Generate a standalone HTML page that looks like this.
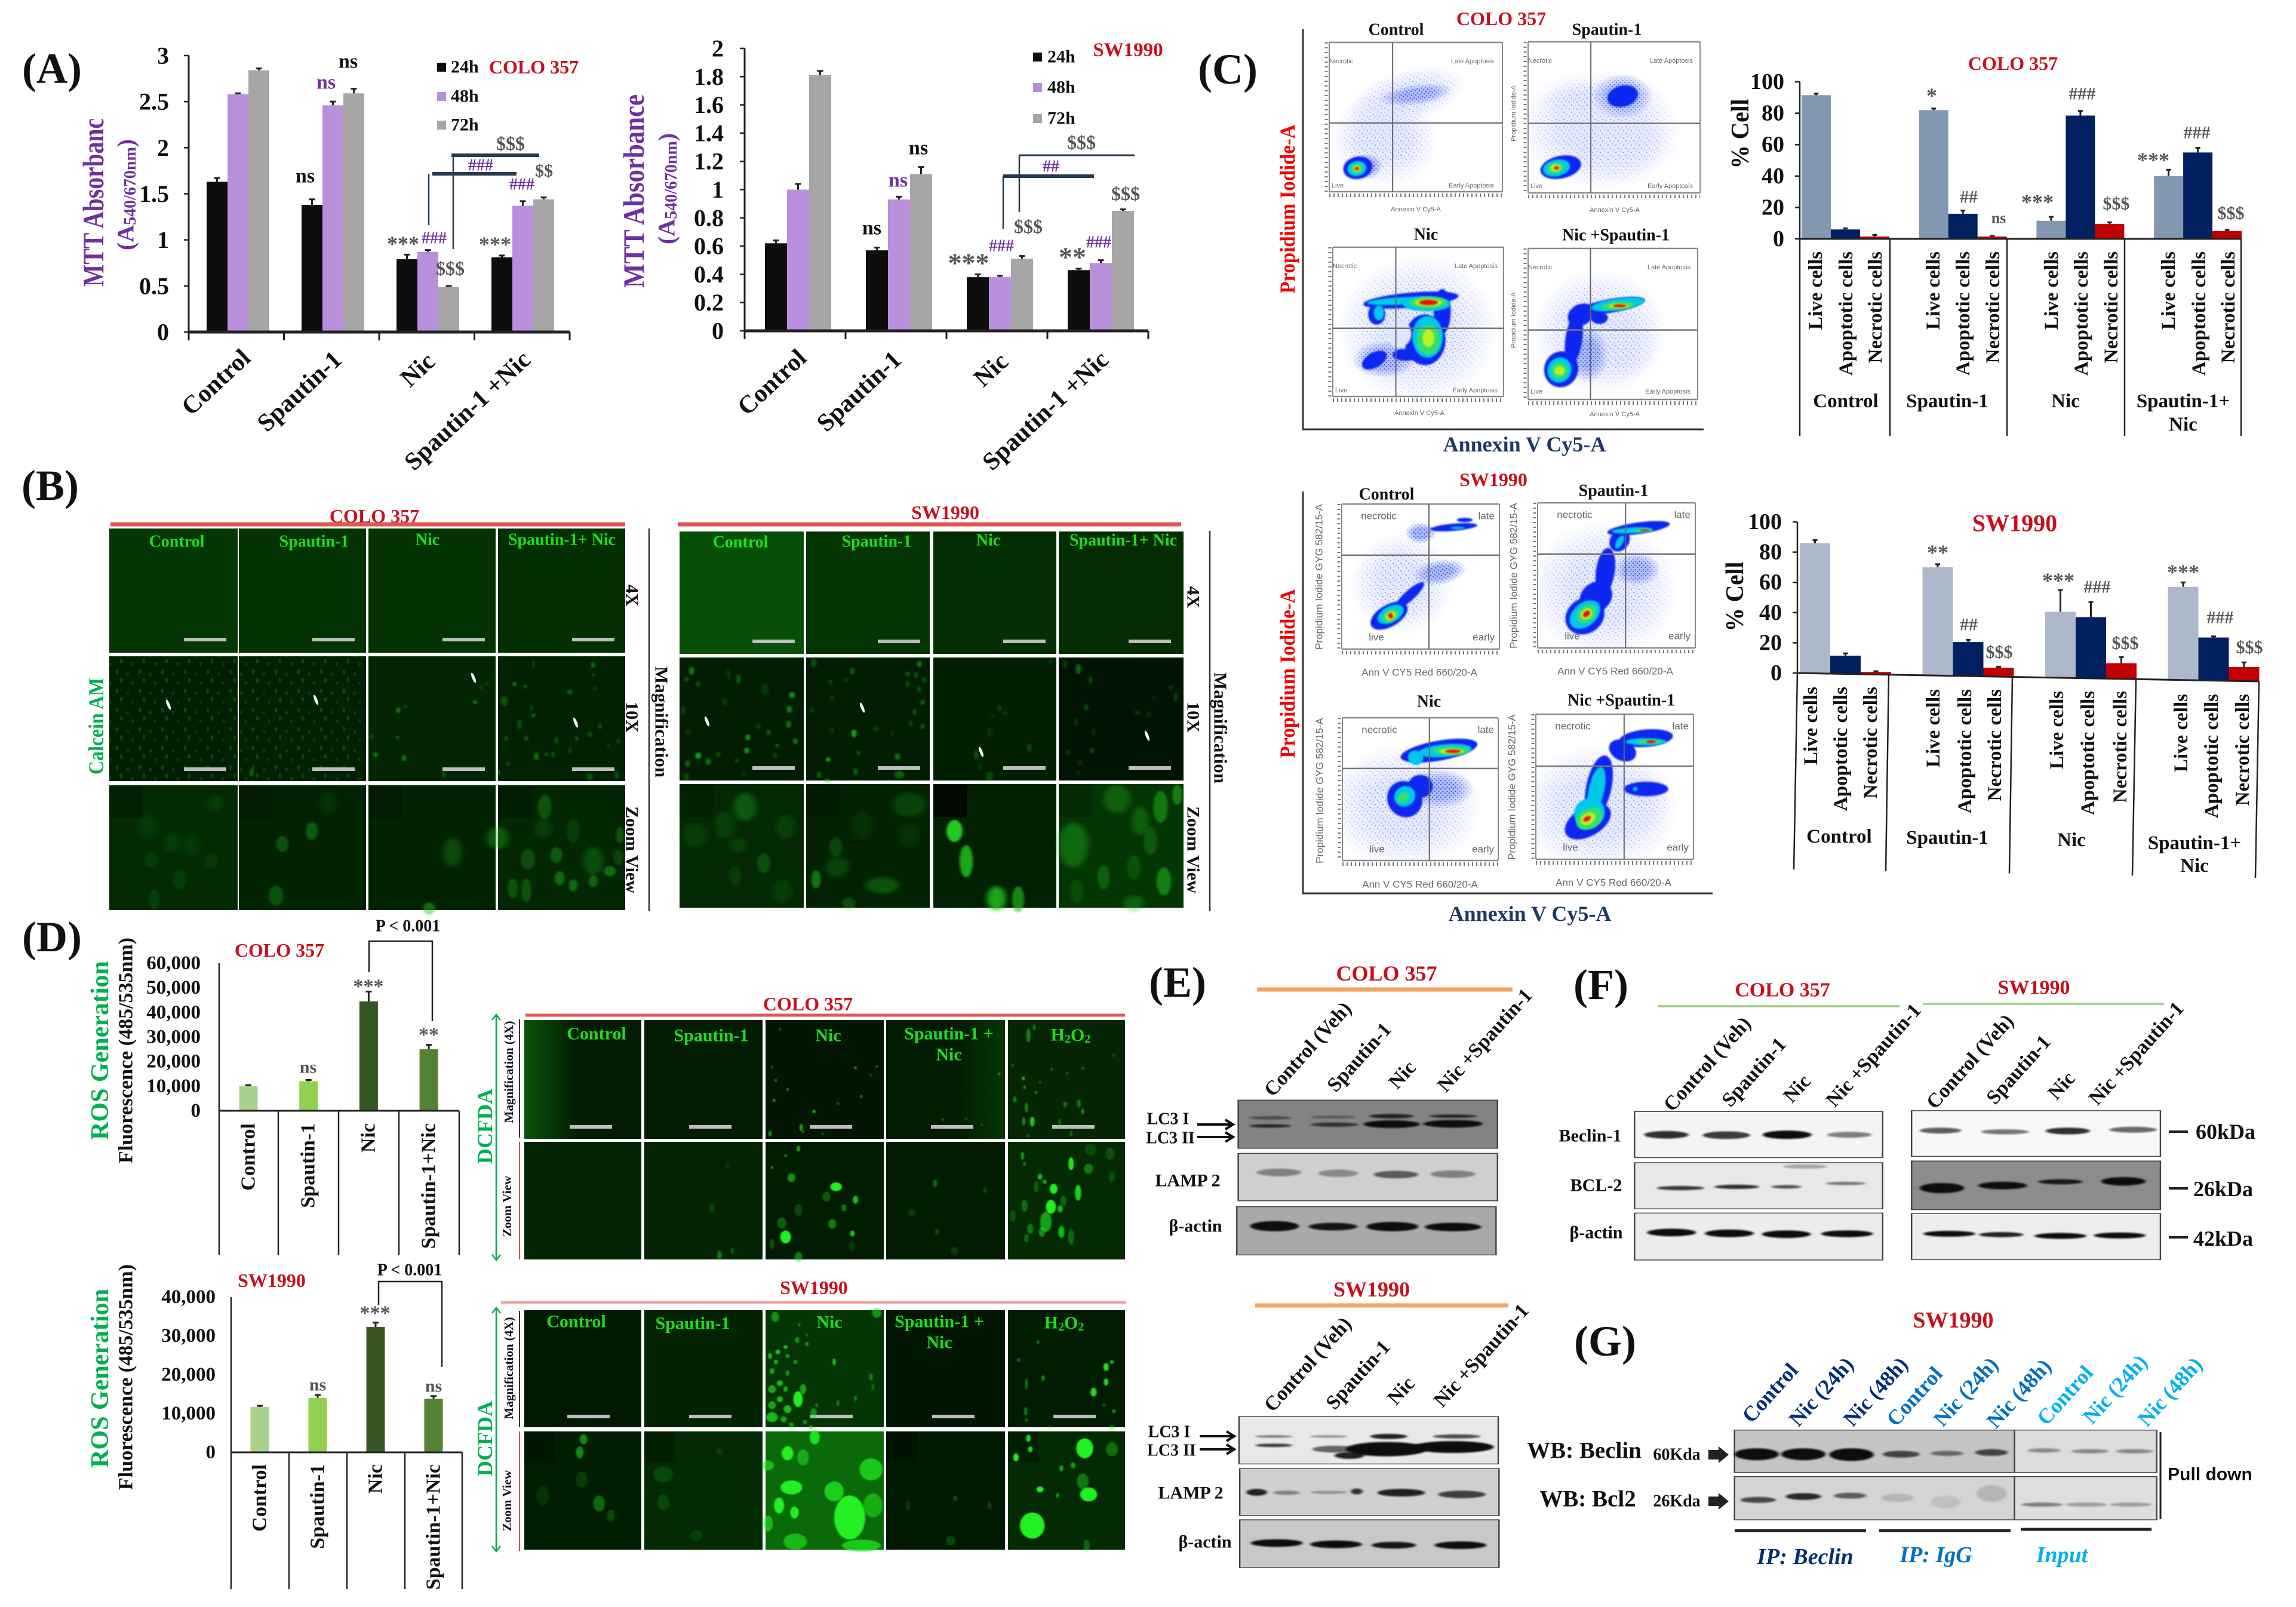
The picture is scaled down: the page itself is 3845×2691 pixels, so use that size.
<!DOCTYPE html>
<html lang="en">
<head>
<meta charset="utf-8">
<title>Multi-panel figure</title>
<style>
html,body{margin:0;padding:0;background:#fff;width:3845px;height:2691px;overflow:hidden}
svg{display:block}
text{font-family:"Liberation Serif","Times New Roman",serif;font-weight:700;text-anchor:middle;dominant-baseline:central;fill:#111}
.e{text-anchor:end}.s{text-anchor:start}
.red{fill:#c8101c}.pur{fill:#7030a0}.grn{fill:#00b050}.lime{fill:#19e019}.gry{fill:#555}
.sm{font-family:"Liberation Sans",sans-serif;font-weight:400;font-size:11px;fill:#666}
.sm2{font-family:"Liberation Sans",sans-serif;font-weight:400;font-size:17px;fill:#666}
</style>
</head>
<body>
<svg xmlns="http://www.w3.org/2000/svg" width="3845" height="2691" viewBox="0 0 3845 2691">
<defs>
<filter id="blur1" x="-30%" y="-30%" width="160%" height="160%"><feGaussianBlur stdDeviation="1.2"/></filter>
<filter id="blur2" x="-50%" y="-50%" width="200%" height="200%"><feGaussianBlur stdDeviation="2"/></filter>
<filter id="blur4" x="-50%" y="-50%" width="200%" height="200%"><feGaussianBlur stdDeviation="4"/></filter>
<filter id="blur9" x="-60%" y="-60%" width="220%" height="220%"><feGaussianBlur stdDeviation="9"/></filter>
<pattern id="dots-fine" width="38" height="32" patternUnits="userSpaceOnUse">
<ellipse cx="6" cy="5" rx="2.5" ry="4" fill="#0a450a"/><ellipse cx="24" cy="9" rx="2.5" ry="3" fill="#083c08"/><ellipse cx="13" cy="19" rx="2.5" ry="4" fill="#0a450a"/><ellipse cx="32" cy="24" rx="2.5" ry="3" fill="#083c08"/>
</pattern>
<pattern id="speck-sparse" width="13" height="12" patternUnits="userSpaceOnUse">
<circle cx="2" cy="3" r="1" fill="#6f86f5"/><circle cx="9" cy="1" r=".9" fill="#8fa2f7"/><circle cx="6" cy="8" r="1" fill="#6f86f5"/><circle cx="12" cy="10" r=".9" fill="#8fa2f7"/>
</pattern>
<pattern id="speck-dense" width="7" height="7" patternUnits="userSpaceOnUse">
<circle cx="1.5" cy="2" r="1.1" fill="#2f4ff0"/><circle cx="5" cy="5" r="1.1" fill="#2f4ff0"/>
</pattern>
<radialGradient id="soft-grad"><stop offset=".45" stop-color="#fff"/><stop offset="1" stop-color="#000"/></radialGradient>
<mask id="soft-mask" maskContentUnits="objectBoundingBox" x="0" y="0" width="1" height="1"><rect width="1" height="1" fill="url(#soft-grad)"/></mask>
<linearGradient id="fade-right" x1="0" x2="1" y1="0" y2="0"><stop offset="0" stop-color="#0c6c0c" stop-opacity=".7"/><stop offset="1" stop-color="#0c6c0c" stop-opacity="0"/></linearGradient>
<linearGradient id="fade-left" x1="1" x2="0" y1="0" y2="0"><stop offset="0" stop-color="#0c6c0c" stop-opacity=".35"/><stop offset="1" stop-color="#0c6c0c" stop-opacity="0"/></linearGradient>
</defs>

<!-- panel letters -->
<text x="87" y="115" font-size="72">(A)</text>
<text x="84" y="813" font-size="72">(B)</text>
<text x="2056" y="116" font-size="72">(C)</text>
<text x="87" y="1569" font-size="72">(D)</text>
<text x="1972" y="1645" font-size="72">(E)</text>
<text x="2681" y="1649" font-size="72">(F)</text>
<text x="2688" y="2246" font-size="72">(G)</text>

<!-- PANEL A -->
<g id="chart-a1"></g>
<g id="chart-a2"></g>
<text transform="rotate(-90 156 339)" x="156" y="339" font-size="50" textLength="282" lengthAdjust="spacingAndGlyphs" class="pur">MTT Absorbanc</text>
<text transform="rotate(-90 210 326)" x="210" y="326" font-size="40" class="pur">(A<tspan font-size="28" dy="8">540/670nm</tspan><tspan dy="-8">)</tspan></text>
<text transform="rotate(-90 1061 320)" x="1061" y="320" font-size="50" textLength="324" lengthAdjust="spacingAndGlyphs" class="pur">MTT Absorbance</text>
<text transform="rotate(-90 1116 316)" x="1116" y="316" font-size="40" class="pur">(A<tspan font-size="28" dy="8">540/670nm</tspan><tspan dy="-8">)</tspan></text>

<text class="e" transform="rotate(-43 413 593)" x="413" y="593" font-size="42">Control</text>
<text class="e" transform="rotate(-43 566 596)" x="566" y="596" font-size="42">Spautin-1</text>
<text class="e" transform="rotate(-43 722 599)" x="722" y="599" font-size="42">Nic</text>
<text class="e" transform="rotate(-43 882 596)" x="882" y="596" font-size="42">Spautin-1 +Nic</text>
<text class="e" transform="rotate(-43 1344 593)" x="1344" y="593" font-size="42">Control</text>
<text class="e" transform="rotate(-43 1503 596)" x="1503" y="596" font-size="42">Spautin-1</text>
<text class="e" transform="rotate(-43 1682 599)" x="1682" y="599" font-size="42">Nic</text>
<text class="e" transform="rotate(-43 1850 596)" x="1850" y="596" font-size="42">Spautin-1 +Nic</text>

<rect x="732" y="105" width="15" height="15" fill="#0d0d0d"/>
<rect x="732" y="154" width="15" height="15" fill="#b98fdc"/>
<rect x="732" y="202" width="15" height="15" fill="#a6a6a6"/>
<text class="s" x="755" y="112" font-size="30">24h</text>
<text class="s" x="755" y="161" font-size="30">48h</text>
<text class="s" x="755" y="209" font-size="30">72h</text>
<text x="894" y="112" font-size="32" class="red">COLO 357</text>
<rect x="1730" y="88" width="15" height="15" fill="#0d0d0d"/>
<rect x="1730" y="139" width="15" height="15" fill="#b98fdc"/>
<rect x="1730" y="191" width="15" height="15" fill="#a6a6a6"/>
<text class="s" x="1754" y="95" font-size="30">24h</text>
<text class="s" x="1754" y="146" font-size="30">48h</text>
<text class="s" x="1754" y="198" font-size="30">72h</text>
<text x="1889" y="84" font-size="33" class="red">SW1990</text>

<!-- A annotations -->
<g>
<text x="583" y="103" font-size="34">ns</text>
<text x="546" y="138" font-size="34" class="pur">ns</text>
<text x="511" y="295" font-size="34">ns</text>
<text x="855" y="240" font-size="32" class="gry">$$$</text>
<text x="805" y="277" font-size="28" class="pur">###</text>
<text x="911" y="286" font-size="30" class="gry">$$</text>
<text x="874" y="309" font-size="28" class="pur">###</text>
<text x="675" y="408" font-size="36" class="gry">***</text>
<text x="727" y="399" font-size="28" class="pur">###</text>
<text x="829" y="409" font-size="36" class="gry">***</text>
<text x="754" y="449" font-size="32" class="gry">$$$</text>
<path d="M756 260H903M724 291H865" stroke="#263a52" stroke-width="6" fill="none"/>
<path d="M718 291V377M759 260V417" stroke="#263a52" stroke-width="2.5" fill="none"/>
</g>
<g>
<text x="1538" y="248" font-size="34">ns</text>
<text x="1504" y="302" font-size="34" class="pur">ns</text>
<text x="1460" y="382" font-size="34">ns</text>
<text x="1811" y="238" font-size="32" class="gry">$$$</text>
<text x="1760" y="279" font-size="28" class="pur">##</text>
<text x="1722" y="379" font-size="32" class="gry">$$$</text>
<text x="1677" y="412" font-size="28" class="pur">###</text>
<text x="1622" y="440" font-size="46" class="gry">***</text>
<text x="1885" y="324" font-size="32" class="gry">$$$</text>
<text x="1796" y="430" font-size="46" class="gry">**</text>
<text x="1840" y="406" font-size="28" class="pur">###</text>
<path d="M1707 260H1900" stroke="#263a52" stroke-width="3" fill="none"/>
<path d="M1680 295H1832" stroke="#263a52" stroke-width="6" fill="none"/>
<path d="M1680 295V383M1707 260V355" stroke="#263a52" stroke-width="2.5" fill="none"/>
</g>

<!-- PANEL B -->
<g id="micro-b"></g>
<text x="627" y="864" font-size="32" class="red">COLO 357</text>
<text x="1583" y="858" font-size="32" class="red">SW1990</text>
<path d="M185 878H1047M1135 878H1978" stroke="#e25555" stroke-width="7"/>
<path d="M1087 885V1526M2026 889V1526" stroke="#333" stroke-width="2.5"/>
<text x="296" y="907" font-size="28" class="lime">Control</text>
<text x="526" y="907" font-size="28" class="lime">Spautin-1</text>
<text x="716" y="904" font-size="28" class="lime">Nic</text>
<text x="941" y="904" font-size="28" class="lime">Spautin-1+ Nic</text>
<text x="1240" y="908" font-size="28" class="lime">Control</text>
<text x="1468" y="907" font-size="28" class="lime">Spautin-1</text>
<text x="1655" y="905" font-size="28" class="lime">Nic</text>
<text x="1881" y="905" font-size="28" class="lime">Spautin-1+ Nic</text>
<text transform="rotate(90 1058 997)" x="1058" y="997" font-size="30">4X</text>
<text transform="rotate(90 1058 1201)" x="1058" y="1201" font-size="30">10X</text>
<text transform="rotate(90 1058 1423)" x="1058" y="1423" font-size="30">Zoom View</text>
<text transform="rotate(90 1108 1209)" x="1108" y="1209" font-size="31">Magnification</text>
<text transform="rotate(90 1998 1000)" x="1998" y="1000" font-size="30">4X</text>
<text transform="rotate(90 1998 1201)" x="1998" y="1201" font-size="30">10X</text>
<text transform="rotate(90 1998 1423)" x="1998" y="1423" font-size="30">Zoom View</text>
<text transform="rotate(90 2044 1219)" x="2044" y="1219" font-size="31">Magnification</text>
<text transform="rotate(-90 161 1216)" x="161" y="1216" font-size="36" class="grn" textLength="162" lengthAdjust="spacingAndGlyphs">Calcein AM</text>

<!-- PANEL C flow plots -->
<g id="flow"></g>
<text x="2514" y="31" font-size="32" class="red">COLO 357</text>
<text x="2338" y="50" font-size="28">Control</text>
<text x="2691" y="50" font-size="28">Spautin-1</text>
<text x="2388" y="393" font-size="28">Nic</text>
<text x="2706" y="394" font-size="28">Nic +Spautin-1</text>
<text transform="rotate(-90 2156 350)" x="2156" y="350" font-size="36" textLength="283" lengthAdjust="spacingAndGlyphs" style="fill:#f00000">Propidium  Iodide-A</text>
<text x="2553" y="744" font-size="36" style="fill:#1f3864">Annexin V Cy5-A</text>
<path d="M2182 49V719H2853" fill="none" stroke="#333" stroke-width="3"/>
<text x="2501" y="803" font-size="32" class="red">SW1990</text>
<text x="2322" y="828" font-size="28">Control</text>
<text x="2702" y="822" font-size="28">Spautin-1</text>
<text x="2393" y="1175" font-size="28">Nic</text>
<text x="2715" y="1173" font-size="28">Nic +Spautin-1</text>
<text transform="rotate(-90 2156 1128)" x="2156" y="1128" font-size="36" textLength="283" lengthAdjust="spacingAndGlyphs" style="fill:#f00000">Propidium  Iodide-A</text>
<text x="2562" y="1530" font-size="36" style="fill:#1f3864">Annexin V Cy5-A</text>
<path d="M2182 823V1496H2868" fill="none" stroke="#333" stroke-width="3"/>

<g>
<g transform="translate(2226,71)"><text class="sm" x="20" y="32">Necrotic</text><text class="sm e" x="276" y="32">Late Apoptosis</text><text class="sm" x="14" y="240">Live</text><text class="sm e" x="276" y="240">Early Apoptosis</text><text class="sm" x="145" y="280">Annexin V Cy5-A</text></g>
<g transform="translate(2559,70)"><text class="sm" x="20" y="32">Necrotic</text><text class="sm e" x="276" y="32">Late Apoptosis</text><text class="sm" x="14" y="242">Live</text><text class="sm e" x="276" y="242">Early Apoptosis</text><text class="sm" x="145" y="282">Annexin V Cy5-A</text><text class="sm" transform="rotate(-90 -24 120)" x="-24" y="120">Propidium Iodide-A</text></g>
<g transform="translate(2232,414)"><text class="sm" x="20" y="32">Necrotic</text><text class="sm e" x="276" y="32">Late Apoptosis</text><text class="sm" x="14" y="240">Live</text><text class="sm e" x="276" y="240">Early Apoptosis</text><text class="sm" x="145" y="278">Annexin V Cy5-A</text></g>
<g transform="translate(2559,416)"><text class="sm" x="20" y="32">Necrotic</text><text class="sm e" x="272" y="32">Late Apoptosis</text><text class="sm" x="14" y="240">Live</text><text class="sm e" x="272" y="240">Early Apoptosis</text><text class="sm" x="145" y="278">Annexin V Cy5-A</text><text class="sm" transform="rotate(-90 -24 120)" x="-24" y="120">Propidium Iodide-A</text></g>
<g transform="translate(2247,844)"><text class="sm2" x="62" y="20">necrotic</text><text class="sm2 e" x="256" y="20">late</text><text class="sm2" x="58" y="223">live</text><text class="sm2 e" x="256" y="223">early</text><text class="sm2" x="130" y="282">Ann V CY5 Red 660/20-A</text><text class="sm2" transform="rotate(-90 -38 122)" x="-38" y="122">Propidium Iodide GYG 582/15-A</text></g>
<g transform="translate(2575,842)"><text class="sm2" x="62" y="20">necrotic</text><text class="sm2 e" x="256" y="20">late</text><text class="sm2" x="58" y="223">live</text><text class="sm2 e" x="256" y="223">early</text><text class="sm2" x="130" y="282">Ann V CY5 Red 660/20-A</text><text class="sm2" transform="rotate(-90 -40 122)" x="-40" y="122">Propidium Iodide GYG 582/15-A</text></g>
<g transform="translate(2248,1202)"><text class="sm2" x="62" y="20">necrotic</text><text class="sm2 e" x="254" y="20">late</text><text class="sm2" x="58" y="220">live</text><text class="sm2 e" x="254" y="220">early</text><text class="sm2" x="130" y="279">Ann V CY5 Red 660/20-A</text><text class="sm2" transform="rotate(-90 -38 122)" x="-38" y="122">Propidium Iodide GYG 582/15-A</text></g>
<g transform="translate(2572,1196)"><text class="sm2" x="62" y="20">necrotic</text><text class="sm2 e" x="256" y="20">late</text><text class="sm2" x="58" y="223">live</text><text class="sm2 e" x="256" y="223">early</text><text class="sm2" x="130" y="282">Ann V CY5 Red 660/20-A</text><text class="sm2" transform="rotate(-90 -40 122)" x="-40" y="122">Propidium Iodide GYG 582/15-A</text></g>
</g>

<!-- PANEL C bars -->
<g id="chart-c1"></g>
<g id="chart-c2"></g>
<text x="3371" y="106" font-size="32" class="red">COLO 357</text>
<text transform="rotate(-90 2915 224)" x="2915" y="224" font-size="42" textLength="117" lengthAdjust="spacingAndGlyphs">% Cell</text>
<text x="3374" y="876" font-size="40" class="red">SW1990</text>
<text transform="rotate(-90 2906 999)" x="2906" y="999" font-size="42" textLength="117" lengthAdjust="spacingAndGlyphs">% Cell</text>

<g>
<text class="e" transform="rotate(-90 3041 421)" x="3041" y="421" font-size="33">Live cells</text>
<text class="e" transform="rotate(-90 3092 421)" x="3092" y="421" font-size="33">Apoptotic cells</text>
<text class="e" transform="rotate(-90 3141 421)" x="3141" y="421" font-size="33">Necrotic cells</text>
<text class="e" transform="rotate(-90 3238 421)" x="3238" y="421" font-size="33">Live cells</text>
<text class="e" transform="rotate(-90 3288 421)" x="3288" y="421" font-size="33">Apoptotic cells</text>
<text class="e" transform="rotate(-90 3338 421)" x="3338" y="421" font-size="33">Necrotic cells</text>
<text class="e" transform="rotate(-90 3436 421)" x="3436" y="421" font-size="33">Live cells</text>
<text class="e" transform="rotate(-90 3486 421)" x="3486" y="421" font-size="33">Apoptotic cells</text>
<text class="e" transform="rotate(-90 3536 421)" x="3536" y="421" font-size="33">Necrotic cells</text>
<text class="e" transform="rotate(-90 3632 421)" x="3632" y="421" font-size="33">Live cells</text>
<text class="e" transform="rotate(-90 3683 421)" x="3683" y="421" font-size="33">Apoptotic cells</text>
<text class="e" transform="rotate(-90 3732 421)" x="3732" y="421" font-size="33">Necrotic cells</text>
<text x="3091" y="672" font-size="33">Control</text>
<text x="3261" y="672" font-size="33">Spautin-1</text>
<text x="3459" y="672" font-size="33">Nic</text>
<text x="3656" y="672" font-size="33">Spautin-1+</text>
<text x="3656" y="711" font-size="33">Nic</text>
</g>
<g>
<text class="e" transform="rotate(-90 3033 1150)" x="3033" y="1150" font-size="33">Live cells</text>
<text class="e" transform="rotate(-90 3083 1150)" x="3083" y="1150" font-size="33">Apoptotic cells</text>
<text class="e" transform="rotate(-90 3133 1150)" x="3133" y="1150" font-size="33">Necrotic cells</text>
<text class="e" transform="rotate(-90 3238 1154)" x="3238" y="1154" font-size="33">Live cells</text>
<text class="e" transform="rotate(-90 3291 1154)" x="3291" y="1154" font-size="33">Apoptotic cells</text>
<text class="e" transform="rotate(-90 3341 1154)" x="3341" y="1154" font-size="33">Necrotic cells</text>
<text class="e" transform="rotate(-90 3445 1157)" x="3445" y="1157" font-size="33">Live cells</text>
<text class="e" transform="rotate(-90 3497 1157)" x="3497" y="1157" font-size="33">Apoptotic cells</text>
<text class="e" transform="rotate(-90 3551 1157)" x="3551" y="1157" font-size="33">Necrotic cells</text>
<text class="e" transform="rotate(-90 3653 1162)" x="3653" y="1162" font-size="33">Live cells</text>
<text class="e" transform="rotate(-90 3704 1162)" x="3704" y="1162" font-size="33">Apoptotic cells</text>
<text class="e" transform="rotate(-90 3756 1162)" x="3756" y="1162" font-size="33">Necrotic cells</text>
<text x="3080" y="1401" font-size="33">Control</text>
<text x="3261" y="1403" font-size="33">Spautin-1</text>
<text x="3469" y="1407" font-size="33">Nic</text>
<text x="3675" y="1412" font-size="33">Spautin-1+</text>
<text x="3675" y="1450" font-size="33">Nic</text>
</g>
<g>
<text x="3235" y="160" font-size="36" class="gry">*</text>
<text x="3487" y="157" font-size="30" class="gry">###</text>
<text x="3297" y="330" font-size="30" class="gry">##</text>
<text x="3347" y="365" font-size="26" class="gry">ns</text>
<text x="3412" y="338" font-size="36" class="gry">***</text>
<text x="3544" y="341" font-size="30" class="gry">$$$</text>
<text x="3606" y="268" font-size="36" class="gry">***</text>
<text x="3679" y="222" font-size="30" class="gry">###</text>
<text x="3736" y="357" font-size="30" class="gry">$$$</text>
</g>
<g>
<text x="3245" y="925" font-size="36" class="gry">**</text>
<text x="3447" y="972" font-size="36" class="gry">***</text>
<text x="3512" y="983" font-size="30" class="gry">###</text>
<text x="3656" y="958" font-size="36" class="gry">***</text>
<text x="3297" y="1046" font-size="30" class="gry">##</text>
<text x="3718" y="1034" font-size="30" class="gry">###</text>
<text x="3348" y="1092" font-size="30" class="gry">$$$</text>
<text x="3559" y="1077" font-size="30" class="gry">$$$</text>
<text x="3767" y="1084" font-size="30" class="gry">$$$</text>
</g>

<!-- PANEL D charts -->
<g id="chart-d1"></g>
<g id="chart-d2"></g>
<text transform="rotate(-90 168 1759)" x="168" y="1759" font-size="42" class="grn">ROS Generation</text>
<text transform="rotate(-90 211 1759)" x="211" y="1759" font-size="34">Fluorescence  (485/535nm)</text>
<text transform="rotate(-90 168 2308)" x="168" y="2308" font-size="42" class="grn">ROS Generation</text>
<text transform="rotate(-90 211 2306)" x="211" y="2306" font-size="34">Fluorescence (485/535nm)</text>
<text x="468" y="1591" font-size="32" class="red">COLO 357</text>
<text x="455" y="2144" font-size="32" class="red">SW1990</text>
<text x="683" y="1551" font-size="28">P &lt; 0.001</text>
<path d="M618 1628V1576H724V1710" fill="none" stroke="#222" stroke-width="2.5"/>
<text x="686" y="2127" font-size="28">P &lt; 0.001</text>
<path d="M634 2185V2146H740V2289" fill="none" stroke="#222" stroke-width="2.5"/>
<text x="617" y="1652" font-size="34" class="gry">***</text>
<text x="718" y="1733" font-size="34" class="gry">**</text>
<text x="516" y="1787" font-size="30" class="gry">ns</text>
<text x="628" y="2199" font-size="34" class="gry">***</text>
<text x="532" y="2319" font-size="30" class="gry">ns</text>
<text x="726" y="2321" font-size="30" class="gry">ns</text>
<text class="e" transform="rotate(-90 416 1881)" x="416" y="1881" font-size="34">Control</text>
<text class="e" transform="rotate(-90 516 1881)" x="516" y="1881" font-size="34">Spautin-1</text>
<text class="e" transform="rotate(-90 617 1881)" x="617" y="1881" font-size="34">Nic</text>
<text class="e" transform="rotate(-90 718 1881)" x="718" y="1881" font-size="34">Spautin-1+Nic</text>
<text class="e" transform="rotate(-90 435 2452)" x="435" y="2452" font-size="34">Control</text>
<text class="e" transform="rotate(-90 532 2452)" x="532" y="2452" font-size="34">Spautin-1</text>
<text class="e" transform="rotate(-90 629 2452)" x="629" y="2452" font-size="34">Nic</text>
<text class="e" transform="rotate(-90 726 2452)" x="726" y="2452" font-size="34">Spautin-1+Nic</text>

<!-- PANEL D micrographs -->
<g id="micro-d"></g>
<text x="1353" y="1681" font-size="32" class="red">COLO 357</text>
<path d="M880 1700H1884" stroke="#e25555" stroke-width="5"/>
<text x="1363" y="2156" font-size="32" class="red">SW1990</text>
<path d="M839 2181H1886" stroke="#f0a0a0" stroke-width="4"/>
<text x="999" y="1731" font-size="30" class="lime">Control</text>
<text x="1191" y="1734" font-size="30" class="lime">Spautin-1</text>
<text x="1387" y="1734" font-size="30" class="lime">Nic</text>
<text x="1589" y="1731" font-size="30" class="lime">Spautin-1 +</text>
<text x="1589" y="1766" font-size="30" class="lime">Nic</text>
<text x="1793" y="1733" font-size="30" class="lime">H<tspan font-size="20" dy="7">2</tspan><tspan dy="-7">O</tspan><tspan font-size="20" dy="7">2</tspan></text>
<text x="965" y="2213" font-size="30" class="lime">Control</text>
<text x="1160" y="2216" font-size="30" class="lime">Spautin-1</text>
<text x="1389" y="2214" font-size="30" class="lime">Nic</text>
<text x="1573" y="2213" font-size="30" class="lime">Spautin-1 +</text>
<text x="1573" y="2248" font-size="30" class="lime">Nic</text>
<text x="1782" y="2215" font-size="30" class="lime">H<tspan font-size="20" dy="7">2</tspan><tspan dy="-7">O</tspan><tspan font-size="20" dy="7">2</tspan></text>
<text transform="rotate(-90 812 1886)" x="812" y="1886" font-size="36" class="grn">DCFDA</text>
<text transform="rotate(-90 812 2409)" x="812" y="2409" font-size="36" class="grn">DCFDA</text>
<path d="M831 1699V2110M824 1708L831 1699L838 1708M824 2101L831 2110L838 2101M831 2190V2598M824 2199L831 2190L838 2199M824 2589L831 2598L838 2589" fill="none" stroke="#00b050" stroke-width="2.5"/>
<path d="M870 1707V1905M870 2195V2390" stroke="#333" stroke-width="2"/>
<path d="M870 1912V2109M870 2397V2597" stroke="#d05050" stroke-width="2"/>
<text transform="rotate(-90 852 1795)" x="852" y="1795" font-size="21">Magnification  (4X)</text>
<text transform="rotate(-90 849 2020)" x="849" y="2020" font-size="21">Zoom View</text>
<text transform="rotate(-90 852 2291)" x="852" y="2291" font-size="21">Magnification  (4X)</text>
<text transform="rotate(-90 849 2513)" x="849" y="2513" font-size="21">Zoom View</text>

<!-- BLOTS E F G -->
<g id="blots"></g>
<text x="2322" y="1630" font-size="36" class="red">COLO 357</text>
<path d="M2105 1657H2533" stroke="#f4a460" stroke-width="7"/>
<text x="2297" y="2159" font-size="36" class="red">SW1990</text>
<path d="M2102 2186H2526" stroke="#f4a460" stroke-width="7"/>
<text x="2985" y="1658" font-size="34" class="red">COLO 357</text>
<path d="M2777 1685H3181" stroke="#a9d18e" stroke-width="4"/>
<text x="3406" y="1654" font-size="34" class="red">SW1990</text>
<path d="M3220 1681H3624" stroke="#a9d18e" stroke-width="4"/>

<g>
<text class="e" transform="rotate(-48 2257 1683)" x="2257" y="1683" font-size="34">Control (Veh)</text>
<text class="e" transform="rotate(-48 2324 1718)" x="2324" y="1718" font-size="34">Spautin-1</text>
<text class="e" transform="rotate(-48 2365 1782)" x="2365" y="1782" font-size="34">Nic</text>
<text class="e" transform="rotate(-48 2560 1661)" x="2560" y="1661" font-size="34">Nic +Spautin-1</text>
<text class="e" transform="rotate(-48 2257 2211)" x="2257" y="2211" font-size="34">Control (Veh)</text>
<text class="e" transform="rotate(-48 2322 2250)" x="2322" y="2250" font-size="34">Spautin-1</text>
<text class="e" transform="rotate(-48 2363 2311)" x="2363" y="2311" font-size="34">Nic</text>
<text class="e" transform="rotate(-48 2554 2189)" x="2554" y="2189" font-size="34">Nic +Spautin-1</text>
<text class="e" transform="rotate(-48 2926 1708)" x="2926" y="1708" font-size="34">Control (Veh)</text>
<text class="e" transform="rotate(-48 2985 1743)" x="2985" y="1743" font-size="34">Spautin-1</text>
<text class="e" transform="rotate(-48 3026 1805)" x="3026" y="1805" font-size="34">Nic</text>
<text class="e" transform="rotate(-48 3211 1686)" x="3211" y="1686" font-size="34">Nic +Spautin-1</text>
<text class="e" transform="rotate(-48 3366 1704)" x="3366" y="1704" font-size="34">Control (Veh)</text>
<text class="e" transform="rotate(-48 3428 1739)" x="3428" y="1739" font-size="34">Spautin-1</text>
<text class="e" transform="rotate(-48 3469 1800)" x="3469" y="1800" font-size="34">Nic</text>
<text class="e" transform="rotate(-48 3651 1683)" x="3651" y="1683" font-size="34">Nic +Spautin-1</text>
</g>

<g>
<text x="1956" y="1874" font-size="28">LC3 I</text>
<text x="1960" y="1906" font-size="28">LC3 II</text>
<text x="1989" y="1977" font-size="30">LAMP 2</text>
<text x="2002" y="2053" font-size="30">β-actin</text>
<text x="1958" y="2398" font-size="28">LC3 I</text>
<text x="1962" y="2429" font-size="28">LC3 II</text>
<text x="1994" y="2500" font-size="30">LAMP 2</text>
<text x="2018" y="2582" font-size="30">β-actin</text>
<path d="M2005 1883H2063M2052 1875L2065 1883L2052 1891M2005 1904H2063M2052 1896L2065 1904L2052 1912M2009 2405H2065M2054 2397L2067 2405L2054 2413M2009 2427H2065M2054 2419L2067 2427L2054 2435" fill="none" stroke="#111" stroke-width="4"/>
<text x="2663" y="1902" font-size="30">Beclin-1</text>
<text x="2673" y="1985" font-size="30">BCL-2</text>
<text x="2673" y="2064" font-size="30">β-actin</text>
<path d="M3632 1895H3664M3632 1990H3664M3632 2072H3664" stroke="#222" stroke-width="4"/>
<text x="3727" y="1895" font-size="36">60kDa</text>
<text x="3723" y="1991" font-size="36">26kDa</text>
<text x="3723" y="2074" font-size="36">42kDa</text>

<text x="3271" y="2211" font-size="38" class="red">SW1990</text>
<text x="2653" y="2429" font-size="39">WB: Beclin</text>
<text x="2659" y="2510" font-size="39">WB: Bcl2</text>
<text x="2808" y="2436" font-size="28">60Kda</text>
<text x="2808" y="2514" font-size="28">26Kda</text>
<path d="M2861 2428H2878V2422L2895 2436L2878 2450V2444H2861ZM2861 2506H2878V2500L2895 2514L2878 2528V2522H2861Z" fill="#222"/>
<text x="3701" y="2469" style="font-family:'Liberation Sans',sans-serif;font-weight:700" font-size="30">Pull down</text>
<path d="M3618 2398V2544" stroke="#222" stroke-width="3"/>
<path d="M2905 2563H3125M3147 2563H3367M3384 2561H3603" stroke="#222" stroke-width="5"/>
<text x="3023" y="2607" font-size="38" font-style="italic" style="fill:#002f7a">IP: Beclin</text>
<text x="3242" y="2604" font-size="38" font-style="italic" style="fill:#0070c0">IP: IgG</text>
<text x="3453" y="2604" font-size="38" font-style="italic" style="fill:#00b0f0">Input</text>
<text class="e" transform="rotate(-48 3004 2288)" x="3004" y="2288" font-size="36" style="fill:#002f7a">Control</text>
<text class="e" transform="rotate(-48 3097 2278)" x="3097" y="2278" font-size="36" style="fill:#002f7a">Nic (24h)</text>
<text class="e" transform="rotate(-48 3188 2278)" x="3188" y="2278" font-size="36" style="fill:#002f7a">Nic (48h)</text>
<text class="e" transform="rotate(-48 3246 2294)" x="3246" y="2294" font-size="36" style="fill:#0070c0">Control</text>
<text class="e" transform="rotate(-48 3339 2278)" x="3339" y="2278" font-size="36" style="fill:#0070c0">Nic (24h)</text>
<text class="e" transform="rotate(-48 3428 2281)" x="3428" y="2281" font-size="36" style="fill:#0070c0">Nic (48h)</text>
<text class="e" transform="rotate(-48 3498 2292)" x="3498" y="2292" font-size="36" style="fill:#00b0f0">Control</text>
<text class="e" transform="rotate(-48 3589 2274)" x="3589" y="2274" font-size="36" style="fill:#00b0f0">Nic (24h)</text>
<text class="e" transform="rotate(-48 3681 2278)" x="3681" y="2278" font-size="36" style="fill:#00b0f0">Nic (48h)</text>
</g>
</svg>

<script>
/* ---------- chart data ---------- */
const mttCategories = ['Control', 'Spautin-1', 'Nic', 'Spautin-1 +Nic'];
const mttTimes = ['24h', '48h', '72h'];
const colo24h = [1.63, 1.38, 0.79, 0.81];
const colo48h = [2.58, 2.46, 0.87, 1.37];
const colo72h = [2.84, 2.59, 0.49, 1.44];
const colo24hErr = [0.04, 0.06, 0.05, 0.02];
const colo48hErr = [0.01, 0.04, 0.02, 0.05];
const colo72hErr = [0.02, 0.05, 0.01, 0.02];
const sw24h = [0.62, 0.57, 0.38, 0.43];
const sw48h = [1.00, 0.93, 0.38, 0.48];
const sw72h = [1.81, 1.11, 0.51, 0.85];
const sw24hErr = [0.02, 0.02, 0.02, 0.01];
const sw48hErr = [0.04, 0.02, 0.01, 0.02];
const sw72hErr = [0.03, 0.05, 0.02, 0.01];
const mttColoTicks = [0, 0.5, 1, 1.5, 2, 2.5, 3];
const mttColoTickLabels = ['0', '0.5', '1', '1.5', '2', '2.5', '3'];
const mttSwTicks = [0, 0.2, 0.4, 0.6, 0.8, 1, 1.2, 1.4, 1.6, 1.8, 2];
const mttSwTickLabels = ['0', '0.2', '0.4', '0.6', '0.8', '1', '1.2', '1.4', '1.6', '1.8', '2'];

const cellTypes = ['Live', 'Apoptotic', 'Necrotic'];
const cellColoLive = [91.5, 82, 11.5, 40];
const cellColoApop = [6, 16, 78.5, 55];
const cellColoNecr = [1.5, 1.5, 9.5, 5];
const cellColoLiveErr = [1, 1, 2.5, 4];
const cellColoApopErr = [0.7, 2, 3, 3];
const cellColoNecrErr = [1, 0.5, 1, 0.7];
const cellSwLive = [86, 70, 40.5, 57];
const cellSwApop = [11.5, 20.5, 37, 23.5];
const cellSwNecr = [0.7, 3.5, 6.5, 4];
const cellSwLiveErr = [2, 2, 14.5, 3];
const cellSwApopErr = [1.5, 1.5, 10, 0.7];
const cellSwNecrErr = [0.5, 0.7, 4, 3];
const cellTicks = [0, 20, 40, 60, 80, 100];
const cellTickLabels = ['0', '20', '40', '60', '80', '100'];

const rosCategories = ['Control', 'Spautin-1', 'Nic', 'Spautin-1+Nic'];
const rosColo = [10000, 12000, 44500, 25000];
const rosColoErr = [400, 500, 4000, 1800];
const rosSw = [11700, 14000, 32300, 13800];
const rosSwErr = [300, 800, 1100, 700];
const rosColoTicks = [0, 10000, 20000, 30000, 40000, 50000, 60000];
const rosColoTickLabels = ['0', '10,000', '20,000', '30,000', '40,000', '50,000', '60,000'];
const rosSwTicks = [0, 10000, 20000, 30000, 40000];
const rosSwTickLabels = ['0', '10,000', '20,000', '30,000', '40,000'];

/* ---------- helpers ---------- */
const NS = 'http://www.w3.org/2000/svg';
function mk(tag, attrs, parent) {
  const el = document.createElementNS(NS, tag);
  for (const k in attrs) el.setAttribute(k, attrs[k]);
  parent.appendChild(el);
  return el;
}
function bar(g, x, y, w, h, fill, label) {
  const el = mk('rect', {x: x, y: y, width: w, height: h, fill: fill}, g);
  
  
}
function errBar(g, cx, y0, y1, cap, label) {
  const el = mk('path', {d: 'M' + cx + ' ' + y0 + 'V' + y1 + 'M' + (cx - cap) + ' ' + y1 + 'H' + (cx + cap), stroke: '#222', 'stroke-width': 3, fill: 'none'}, g);
  
  
}
function line(g, x1, y1, x2, y2, w, col, label) {
  const el = mk('line', {x1: x1, y1: y1, x2: x2, y2: y2, stroke: col, 'stroke-width': w}, g);
  
  
}
function tickText(g, x, y, s, fs) {
  const el = mk('text', {x: x, y: y, 'font-size': fs, class: 'e'}, g);
  el.textContent = s;
  
  
}
function yTicks(g, ticks, labels, yFn, axisX, labelX, fs, len) {
  ticks.forEach(function (t, i) {
    if (len) line(g, axisX - len, yFn(t), axisX, yFn(t), 2.5, '#222', 'y-tick');
    tickText(g, labelX, yFn(t), labels[i], fs);
  });
}

/* ---------- panel A ---------- */
const yMttColo = v => 556 - v * (463 / 3);
const xMttColo = (c, s) => 346 + c * 159 + s * 35;
const yMttSw = v => 554 - v * (473 / 2);
const xMttSw = (c, s) => 1281 + c * 169 + s * 37;
const mttColors = ['#0d0d0d', '#b98fdc', '#a6a6a6'];
function drawMtt(id, series, errs, xFn, yFn, bw, axisX, axisEnd, top, groupW, ticks, tickLabels, labelX) {
  const g = document.getElementById(id);
  series.forEach(function (vals, s) {
    vals.forEach(function (v, c) {
      const x = xFn(c, s), y = yFn(v);
      bar(g, x, y, bw, yFn(0) - y, mttColors[s], 'bar-' + mttTimes[s] + '-' + c);
      errBar(g, x + bw / 2, y, yFn(v + errs[s][c]), 5, 'error-bar');
    });
  });
  line(g, axisX, top, axisX, yFn(0) + 12, 3, '#222', 'y-axis');
  line(g, axisX, yFn(0), axisEnd, yFn(0), 5, '#222', 'x-axis');
  for (let i = 0; i <= 4; i++) line(g, axisX + i * groupW, yFn(0), axisX + i * groupW, yFn(0) + 14, 3, '#222', 'x-tick');
  yTicks(g, ticks, tickLabels, yFn, axisX, labelX, 40, 8);
}
drawMtt('chart-a1', [colo24h, colo48h, colo72h], [colo24hErr, colo48hErr, colo72hErr], xMttColo, yMttColo, 35, 316, 954, yMttColo(3), 159.5, mttColoTicks, mttColoTickLabels, 283);
drawMtt('chart-a2', [sw24h, sw48h, sw72h], [sw24hErr, sw48hErr, sw72hErr], xMttSw, yMttSw, 37, 1247, 1923, yMttSw(2), 169, mttSwTicks, mttSwTickLabels, 1212);

/* ---------- panel C bars ---------- */
const cellColorsColo = ['#8497b0', '#002060', '#c00000'];
const cellColorsSw = ['#adb9ca', '#002060', '#c00000'];
const yCellColo = v => 400 - v * 2.63;
const xCellColo = (c, s) => 3017 + c * 196.7 + s * 49;
const yCellSw = v => 1127 - v * 2.53;
const xCellSw = (c, s) => 3014 + c * 205.5 + s * 51;
const baseSw = x => 1127 + (x - 3010) * 14 / 773;
(function () {
  const g = document.getElementById('chart-c1');
  [cellColoLive, cellColoApop, cellColoNecr].forEach(function (vals, s) {
    const errs = [cellColoLiveErr, cellColoApopErr, cellColoNecrErr][s];
    vals.forEach(function (v, c) {
      const x = xCellColo(c, s), y = yCellColo(v);
      bar(g, x, y, 49, yCellColo(0) - y, cellColorsColo[s], 'bar-' + cellTypes[s] + '-' + c);
      errBar(g, x + 24.5, y, yCellColo(v + errs[c]), 4, 'error-bar');
    });
  });
  line(g, 3014, 137, 3014, 730, 2.5, '#222', 'y-axis');
  line(g, 3014, 400, 3753, 400, 3, '#222', 'x-axis');
  [3165, 3361, 3558, 3753].forEach(function (x) { line(g, x, 400, x, 730, 2.5, '#222', 'group-divider'); });
  yTicks(g, cellTicks, cellTickLabels, yCellColo, 3014, 2988, 38, 8);
})();
(function () {
  const g = document.getElementById('chart-c2');
  [cellSwLive, cellSwApop, cellSwNecr].forEach(function (vals, s) {
    const errs = [cellSwLiveErr, cellSwApopErr, cellSwNecrErr][s];
    vals.forEach(function (v, c) {
      const x = xCellSw(c, s), y = yCellSw(v);
      bar(g, x, y, 51, baseSw(x + 25) - y, cellColorsSw[s], 'bar-' + cellTypes[s] + '-' + c);
      errBar(g, x + 25.5, y, yCellSw(v + errs[c]), 4, 'error-bar');
    });
  });
  line(g, 3010, 874, 3010, 1127, 2.5, '#222', 'y-axis');
  line(g, 3010, 1127, 3783, 1141, 3, '#222', 'x-axis');
  [[3010, 3004], [3163, 3158], [3370, 3365], [3577, 3571], [3783, 3777]].forEach(function (d) {
    line(g, d[0], baseSw(d[0]), d[1], baseSw(d[0]) + 329, 2.5, '#222', 'group-divider');
  });
  yTicks(g, cellTicks, cellTickLabels, yCellSw, 3010, 2984, 38, 8);
})();

/* ---------- panel D bars ---------- */
const rosColors = ['#a9d18e', '#92d050', '#375623', '#548235'];
const yRosColo = v => 1860 - v * 247 / 60000;
const xRosColo = c => 416 + c * 100.7;
const yRosSw = v => 2432 - v * 260 / 40000;
const xRosSw = c => 435 + c * 97;
function drawRos(id, vals, errs, xFn, yFn, axisX, top, dividers, bottom, ticks, labels, labelX) {
  const g = document.getElementById(id);
  vals.forEach(function (v, c) {
    const y = yFn(v);
    bar(g, xFn(c) - 15.5, y, 31, yFn(0) - y, rosColors[c], 'bar-' + rosCategories[c]);
    errBar(g, xFn(c), y, yFn(v + errs[c]), 5, 'error-bar');
  });
  line(g, axisX, top, axisX, bottom, 2.5, '#222', 'y-axis');
  line(g, axisX, yFn(0), dividers[dividers.length - 1], yFn(0), 3, '#222', 'x-axis');
  dividers.forEach(function (x) { line(g, x, yFn(0), x, bottom, 2.5, '#222', 'group-divider'); });
  yTicks(g, ticks, labels, yFn, axisX, labelX, 33, 0);
}
drawRos('chart-d1', rosColo, rosColoErr, xRosColo, yRosColo, 367, 1613, [466, 567, 668, 769], 2102, rosColoTicks, rosColoTickLabels, 336);
drawRos('chart-d2', rosSw, rosSwErr, xRosSw, yRosSw, 387, 2172, [484, 581, 678, 774], 2661, rosSwTicks, rosSwTickLabels, 361);

/* ---------- micrograph stand-ins ---------- */
function cellRect(g, x, y, w, h, fill, op) {
  const el = mk('rect', {x: x, y: y, width: w, height: h, fill: fill, opacity: op === undefined ? 1 : op}, g);
  
  
}
function spotLayer(g, name, tf, list, col, filter) {
  const z = mk('g', {transform: tf}, g);
  
  
  list.forEach(function (s) {
    const f = filter || (s[2] >= 25 ? 'url(#blur9)' : 'url(#blur4)');
    const el = mk('ellipse', {cx: s[0], cy: s[1], rx: s[2], ry: s[3], fill: col, opacity: s[4], filter: f}, z);
    
    
  });
}
function scaleBar(g, x, y) {
  const el = mk('rect', {x: x, y: y - 3, width: 71, height: 6, fill: '#bdbdbd'}, g);
  
  
}
function arrow(g, s) {
  const el = mk('ellipse', {cx: s[0], cy: s[1], rx: 2.5, ry: 9, fill: '#fff', transform: 'rotate(-22 ' + s[0] + ' ' + s[1] + ')'}, g);
  
  
}
/* panel B */
const bLeftCols = [[183,215],[400,213],[617,213],[834,213]];
const bRightCols = [[1138,208],[1350,207],[1563,206],[1773,209]];
const bLeftRows = [[885,208],[1099,209],[1315,209]];
const bRightRows = [[890,205],[1101,206],[1313,207]];
const bLeftFill = [['#043704','#033303','#033303','#033003'],['#021f02','#022002','#032503','#022002'],['#032a03','#022302','#022302','#032603']];
const bRightFill = [['#074f07','#033503','#032e03','#032c03'],['#021d02','#021d02','#021f02','#011401'],['#032803','#022202','#022002','#043504']];
const bBarsX = [[308,523,741,958],[1260,1470,1680,1890]];
const bArrows = [[282,1180],[529,1172],[793,1135],[964,1210],[1184,1208],[1444,1185],[1643,1259],[1921,1232]];
const bLeft10x = [[868,280,6,15,.5],[888,262,4,10,.3],[1097,240,6,10,.5],[1115,165,5,18,.2],[1132,148,5,10,.25],[865,415,4,10,.4],[788,410,4,14,.3],[800,500,6,13,.5],[885,518,6,16,.55],[1005,600,4,18,.35],[1450,55,5,15,.55],[1215,150,4,10,.7],[1247,162,4,10,.5],[1272,50,3,25,.3],[1380,190,8,15,.3],[1185,235,10,25,.3],[1265,270,3,20,.35],[1272,305,4,10,.6],[1230,350,6,25,.3],[1455,170,3,10,.4],[1450,105,3,10,.4],[1525,435,4,12,.3],[1495,460,3,12,.3],[1470,360,4,15,.4],[1440,400,6,15,.3],[1400,420,5,12,.35],[1250,420,5,12,.4],[1190,420,5,15,.35],[1280,510,6,20,.5],[1330,500,4,15,.4],[1310,500,5,10,.4],[1380,480,5,15,.25],[1195,545,4,12,.35],[1168,590,3,12,.7],[1440,610,8,20,.3],[1520,600,6,20,.3],[1340,430,5,20,.35],[430,590,5,20,.5]];
const bLeftZoom = [[320,740,25,40,.12],[120,860,30,60,.1],[195,940,25,50,.12],[250,950,25,60,.1],[130,1020,20,40,.12],[215,1120,20,50,.12],[140,1220,15,50,.15],[310,1030,20,40,.1],[610,880,18,45,.35],[522,945,18,40,.3],[503,1200,22,50,.3],[660,740,25,50,.1],[1165,915,32,55,.35],[1030,985,28,70,.25],[960,1265,18,30,.45],[1305,760,20,60,.3],[1300,870,25,50,.15],[1255,1020,22,50,.25],[1340,1000,18,40,.35],[1390,880,20,60,.15],[1530,900,12,40,.3],[1500,1080,18,25,.45],[1450,1030,30,70,.25],[1350,1115,15,35,.45],[1390,1150,13,30,.45],[1210,1165,15,50,.3],[1250,1175,15,60,.3],[1525,1010,15,40,.2],[1450,1130,14,30,.4]];
const bRight10x = [[50,85,8,20,.5],[190,125,6,22,.4],[70,150,6,15,.3],[35,125,6,15,.3],[160,100,5,25,.2],[350,205,8,15,.7],[342,275,7,18,.6],[340,350,6,20,.5],[360,435,7,15,.5],[218,415,7,15,.7],[215,480,7,15,.7],[280,390,5,15,.4],[70,505,8,16,.8],[100,535,7,18,.5],[38,545,7,18,.4],[130,500,6,15,.3],[185,530,5,12,.3],[305,455,5,10,.4],[35,610,7,22,.25],[205,595,5,15,.2],[270,175,10,30,.15],[25,280,6,25,.2],[150,240,8,20,.15],[250,360,6,15,.2],[40,390,5,15,.2],[300,505,6,15,.25],[415,45,8,22,.3],[530,85,6,18,.4],[730,50,6,15,.6],[695,100,6,12,.4],[720,105,5,15,.4],[745,130,5,15,.35],[695,150,5,15,.35],[730,175,5,15,.35],[740,240,6,15,.4],[715,290,5,15,.35],[740,360,5,15,.4],[705,345,5,15,.3],[535,395,7,20,.8],[458,525,5,12,.95],[665,510,7,18,.5],[548,490,5,12,.4],[540,585,6,18,.4],[670,600,15,20,.35],[430,600,6,18,.4],[455,630,6,10,.6],[470,380,4,20,.25],[410,280,5,15,.2],[470,220,5,12,.25],[510,130,4,15,.25],[465,140,4,15,.3],[600,370,8,15,.2],[650,395,5,15,.15],[970,270,6,15,.25],[985,295,5,10,.2],[950,310,4,15,.15],[940,390,8,25,.12],[900,500,5,25,.35],[910,560,4,20,.2],[1058,465,5,20,.35],[940,610,10,25,.25],[1122,40,4,15,.2],[1205,75,8,25,.45],[1240,130,6,20,.3],[1165,50,6,20,.25],[1228,265,6,15,.35],[1197,340,5,20,.2],[1245,480,6,15,.3],[1175,490,5,15,.25],[1210,540,5,15,.2],[1380,290,6,15,.2],[1415,300,5,15,.2],[1495,215,5,22,.3],[1480,170,5,15,.2],[1250,390,5,20,.15],[1205,590,5,12,.2],[1430,220,6,15,.1]];
const bRightZoom = [[210,760,35,70,.3],[150,850,30,70,.15],[330,860,30,60,.15],[190,950,25,40,.15],[265,1040,20,50,.25],[180,1100,18,50,.12],[320,1180,30,60,.12],[60,900,40,60,.12],[422,1120,14,45,.5],[485,1060,35,50,.2],[480,960,20,50,.2],[620,1150,50,40,.3],[700,750,50,60,.2],[520,1240,20,30,.25],[560,850,30,70,.1],[700,900,30,60,.1],[835,880,24,55,1],[870,1030,20,80,.8],[960,1215,28,60,.8],[1025,1220,18,65,.6],[1320,720,40,70,.3],[1450,760,22,80,.45],[1500,700,15,50,.5],[1190,950,45,110,.35],[1390,830,25,70,.3],[1420,930,20,70,.25],[1460,1130,22,70,.5],[1280,1110,18,60,.3],[1370,1060,20,60,.2],[1370,1240,30,40,.3],[1200,1180,20,60,.15]];
(function () {
  const g = document.getElementById('micro-b');
  bLeftRows.forEach(function (row, r) {
    bLeftCols.forEach(function (col, c) {
      cellRect(g, col[0], row[0], col[1], row[1], bLeftFill[r][c]);
      if (r === 1 && c < 2) cellRect(g, col[0], row[0], col[1], row[1], 'url(#dots-fine)');
      if (r === 2) cellRect(g, col[0], row[0], 56, 55, '#000', .2);
    });
  });
  bRightRows.forEach(function (row, r) {
    bRightCols.forEach(function (col, c) {
      cellRect(g, col[0], row[0], col[1], row[1], bRightFill[r][c]);
      if (r === 2) cellRect(g, col[0], row[0], 56, 55, '#000', c === 2 ? .75 : .2);
    });
  });
  spotLayer(g, 'calcein-10x-left', 'translate(180,1095) scale(.561,.337)', bLeft10x, '#22d022');
  spotLayer(g, 'calcein-zoom-left', 'translate(180,1095) scale(.561,.337)', bLeftZoom, '#22c022');
  spotLayer(g, 'calcein-10x-right', 'translate(1130,1095) scale(.561,.337)', bRight10x, '#22d022');
  spotLayer(g, 'calcein-zoom-right', 'translate(1130,1095) scale(.561,.337)', bRightZoom, '#22c822');
  bBarsX[0].forEach(function (x) { scaleBar(g, x, 1071); scaleBar(g, x, 1288); });
  bBarsX[1].forEach(function (x) { scaleBar(g, x, 1074); scaleBar(g, x, 1286); });
  bArrows.forEach(function (a) { arrow(g, a); });
})();
/* panel D */
const dCols = [[878,196],[1079,198],[1282,198],[1484,199],[1688,196]];
const dColoRows = [[1708,199],[1912,197]];
const dSwRows = [[2194,196],[2397,198]];
const dColoFill = [['#021c02','#021c02','#021602','#021c02','#052505'],['#032303','#032303','#021c02','#021c02','#042a04']];
const dSwFill = [['#021a02','#022202','#053405','#011701','#021c02'],['#021e02','#032a03','#0a6a0a','#011a01','#032a03']];
const dBarsColo = [990,1190,1392,1595,1798];
const dBarsSw = [986,1190,1393,1597,1800];
const dColoSpots = [[725,560,4,18,.7],[758,480,4,8,.8],[655,425,3,8,.7],[690,370,3,8,.6],[865,262,3,8,.7],[880,405,3,10,.5],[660,325,3,8,.5],[650,260,3,8,.4],[730,580,3,8,.5],[645,590,4,15,.6],[920,255,3,8,.4],[820,440,3,8,.4],[780,590,3,8,.4],[670,70,3,8,.4],[905,300,3,8,.3],[1235,292,3,8,.5],[1090,520,3,8,.4],[1150,515,3,8,.3],[1190,545,3,8,.3],[1310,100,5,35,.5],[1325,60,4,15,.4],[1297,315,4,10,.7],[1300,360,3,10,.5],[1330,385,3,8,.5],[1305,460,4,25,.5],[1320,530,6,25,.8],[1298,530,4,20,.5],[1390,540,3,25,.4],[1450,480,3,15,.6],[1405,445,5,15,.4],[1440,440,5,20,.4],[1275,420,5,15,.4],[1310,600,4,10,.3],[1420,590,3,15,.4],[1370,270,3,8,.4],[1450,265,3,8,.4],[1530,200,3,8,.3],[1270,250,3,10,.3],[1340,335,3,8,.3],[1410,290,3,8,.3],[815,855,15,22,1],[700,810,10,22,.55],[865,920,7,20,.75],[790,905,10,25,.3],[835,960,6,18,.45],[685,1105,14,32,1],[805,1040,10,25,.45],[857,1088,6,15,.8],[718,1205,10,25,.45],[675,1035,12,28,.3],[650,1140,6,25,.25],[718,970,10,30,.2],[718,665,4,15,.7],[685,700,3,8,.6],[650,760,3,8,.6],[855,1150,8,25,.15],[515,1195,6,22,.4],[548,1175,4,15,.3],[495,960,8,20,.15],[535,750,5,15,.1],[1070,838,6,18,.35],[1075,1080,6,18,.2],[1010,985,10,20,.15],[1198,872,5,15,.2],[1120,1175,10,20,.15],[1420,740,7,32,.95],[1375,865,10,25,1],[1438,885,8,40,.85],[1368,955,13,35,1],[1392,965,7,18,.7],[1340,805,6,15,.7],[1352,830,5,12,.6],[1465,765,12,25,.4],[1330,855,5,30,.3],[1300,950,8,30,.35],[1355,1030,15,50,.6],[1395,1080,8,30,.7],[1345,1080,8,25,.5],[1315,1065,8,25,.4],[1305,1110,6,20,.35],[1420,1105,8,40,.3],[1520,690,12,30,.2],[1470,670,15,30,.15],[1525,805,8,25,.2],[1270,1000,8,30,.2],[1400,925,8,25,.3],[1295,700,4,20,.6],[1300,740,3,10,.5]];
const dSwSpots = [[658,60,10,25,.5],[920,40,12,25,.5],[720,100,3,8,.5],[685,210,5,10,.8],[665,235,6,12,.8],[715,175,6,15,.5],[740,195,4,10,.6],[690,255,5,10,.6],[645,255,5,15,.7],[660,285,5,12,.7],[710,285,5,12,.5],[650,330,6,15,.6],[690,340,5,15,.5],[670,390,8,15,.7],[650,420,10,20,.6],[685,420,5,15,.7],[730,420,8,25,.6],[717,470,12,40,1],[670,470,8,15,.7],[650,500,10,20,.6],[690,520,10,20,.7],[650,560,15,25,.7],[680,570,8,15,.6],[757,540,8,25,.5],[810,285,4,18,.8],[905,360,5,18,.4],[865,465,4,15,.4],[820,490,4,15,.4],[910,410,4,18,.3],[735,585,5,12,.5],[700,600,6,15,.5],[750,610,5,12,.5],[765,500,4,10,.4],[740,150,3,8,.4],[1510,310,7,20,.95],[1525,285,5,10,.7],[1510,385,6,18,.9],[1478,435,8,22,.9],[1305,395,3,30,.5],[1348,365,3,15,.7],[1285,275,3,10,.5],[1335,185,3,10,.5],[1303,530,4,20,.5],[1305,575,3,10,.5],[1365,610,3,8,.5],[1530,530,4,10,.6],[1525,610,5,10,.5],[1505,500,3,10,.3],[165,670,10,25,.5],[155,735,10,30,.5],[205,990,15,40,.35],[235,1050,10,30,.2],[160,870,15,40,.15],[60,950,15,50,.1],[370,845,25,40,.15],[370,985,15,40,.15],[515,730,8,20,.1],[455,1150,15,30,.1],[850,1060,40,110,1],[700,910,28,35,1],[668,1000,13,40,1],[708,1035,11,30,1],[810,930,25,50,.75],[760,660,13,35,.9],[690,740,15,35,1],[905,820,30,55,.7],[910,1000,25,60,.5],[640,800,15,25,.6],[880,1200,50,30,.7],[710,1180,30,40,.6],[640,1090,12,40,.6],[730,760,15,40,.5],[1122,965,5,15,.25],[1210,1000,5,20,.2],[1000,1000,6,25,.15],[1110,1175,12,25,.2],[1455,715,22,50,1],[1465,945,22,35,1],[1320,1100,32,65,1],[1278,760,7,20,1],[1315,720,6,15,.9],[1310,665,6,18,.9],[1340,920,9,15,1],[1395,815,5,15,.6],[1425,800,6,15,.6],[1525,720,15,35,.35],[1385,950,4,12,.6],[1460,1200,8,30,.3],[1450,880,15,40,.4]];
(function () {
  const g = document.getElementById('micro-d');
  dColoRows.forEach(function (row, r) {
    dCols.forEach(function (col, c) {
      cellRect(g, col[0], row[0], col[1], row[1], dColoFill[r][c]);
    });
  });
  dSwRows.forEach(function (row, r) {
    dCols.forEach(function (col, c) {
      cellRect(g, col[0], row[0], col[1], row[1], dSwFill[r][c]);
      if (r === 1) cellRect(g, col[0], row[0], 52, 52, '#000', c === 2 ? 0 : .25);
    });
  });
  cellRect(g, dCols[0][0], dColoRows[0][0], 90, dColoRows[0][1], 'url(#fade-right)');
  cellRect(g, dCols[3][0] + 119, dColoRows[0][0], 80, dColoRows[0][1], 'url(#fade-left)');
  dBarsColo.forEach(function (x) { scaleBar(g, x - 36, 1887); });
  dBarsSw.forEach(function (x) { scaleBar(g, x - 36, 2372); });
  spotLayer(g, 'dcfda-colo-cells', 'translate(870,1700) scale(.6505,.336)', dColoSpots, '#22f022', 'url(#blur2)');
  spotLayer(g, 'dcfda-sw-cells', 'translate(870,2185) scale(.6505,.336)', dSwSpots, '#22f022', 'url(#blur2)');
})();

/* ---------- flow density regions (fractions of the plot box) ---------- */
const flowColors = {b:'#0a28f0', c:'#00c8e8', g:'#30e070', y:'#b8f020', r:'#f01010', h:'#dfe5fd'};
const flowBoxes = [[2226,71,290,250,.366,.54],[2559,70,288,253,.365,.54],[2232,414,286,250,.369,.543],[2559,416,284,253,.368,.54],[2247,844,264,243,.553,.353],[2575,842,264,243,.558,.353],[2248,1202,261,239,.558,.355],[2572,1196,264,243,.56,.358]];
const flowBlobs = [
 [[.32,.65,.25,.25,0,'p'],[.26,.62,.1,.18,0,'p'],[.45,.36,.28,.14,-15,'p'],[.5,.35,.17,.055,-8,'m'],[.22,.83,.07,.07,0,'m'],[.165,.84,.085,.075,-12,'b'],[.16,.845,.055,.05,-12,'c'],[.16,.845,.035,.035,0,'g'],[.16,.845,.02,.022,0,'y'],[.16,.845,.012,.012,0,'r']],
 [[.42,.58,.38,.32,0,'p'],[.33,.4,.2,.12,0,'p'],[.5,.65,.25,.22,0,'p'],[.55,.36,.14,.12,0,'m'],[.55,.36,.09,.07,-15,'b'],[.19,.83,.12,.075,-12,'b'],[.165,.835,.08,.055,-12,'c'],[.16,.835,.05,.035,-12,'g'],[.16,.835,.03,.025,0,'y'],[.165,.835,.015,.012,0,'r']],
 [[.5,.55,.38,.4,0,'p'],[.3,.75,.15,.1,0,'m'],[.457,.354,.28,.05,-5,'b'],[.257,.449,.05,.07,0,'b'],[.64,.43,.05,.15,0,'b'],[.54,.62,.12,.17,0,'b'],[.243,.756,.08,.05,-30,'b'],[.43,.72,.08,.04,0,'b'],[.39,.58,.07,.09,0,'h'],[.4,.36,.2,.025,-3,'c'],[.27,.44,.03,.05,0,'c'],[.555,.6,.09,.14,0,'c'],[.55,.38,.14,.05,0,'c'],[.56,.62,.07,.1,0,'g'],[.56,.37,.11,.04,0,'g'],[.56,.61,.035,.06,0,'y'],[.56,.37,.08,.025,0,'y'],[.56,.37,.055,.018,0,'r']],
 [[.42,.55,.32,.33,0,'p'],[.5,.65,.2,.2,0,'p'],[.35,.7,.1,.15,0,'m'],[.27,.6,.05,.17,8,'b'],[.31,.44,.08,.07,-30,'b'],[.42,.46,.05,.04,0,'b'],[.49,.38,.2,.045,-10,'b'],[.195,.8,.1,.12,20,'b'],[.185,.805,.07,.085,25,'c'],[.185,.81,.05,.055,25,'g'],[.185,.81,.03,.03,0,'y'],[.53,.37,.16,.04,-8,'c'],[.53,.38,.1,.025,-5,'g'],[.535,.38,.06,.015,0,'y'],[.54,.38,.04,.01,0,'r']],
 [[.38,.55,.26,.28,0,'p'],[.5,.2,.08,.06,0,'m'],[.62,.47,.14,.07,-10,'m'],[.43,.63,.12,.035,-42,'b'],[.71,.16,.15,.025,-5,'b'],[.78,.11,.05,.015,0,'b'],[.735,.165,.045,.008,0,'c'],[.3,.77,.13,.075,-30,'b'],[.31,.76,.09,.055,-28,'c'],[.31,.77,.055,.04,-30,'g'],[.31,.77,.035,.028,-30,'y'],[.31,.77,.015,.02,-30,'r']],
 [[.42,.6,.38,.38,0,'p'],[.63,.46,.12,.09,0,'m'],[.43,.47,.06,.16,8,'b'],[.37,.65,.11,.1,-40,'b'],[.3,.78,.13,.12,-35,'b'],[.3,.77,.11,.08,-40,'c'],[.31,.765,.07,.055,-40,'g'],[.31,.765,.04,.035,-40,'y'],[.31,.765,.025,.018,-40,'r'],[.64,.175,.2,.04,-8,'b'],[.52,.26,.06,.08,35,'b'],[.6,.19,.13,.02,-3,'c'],[.52,.27,.02,.05,30,'c'],[.67,.19,.06,.012,0,'g'],[.68,.19,.03,.006,0,'r']],
 [[.4,.62,.4,.35,0,'p'],[.62,.5,.18,.11,0,'m'],[.5,.48,.08,.08,0,'b'],[.62,.23,.25,.07,-10,'b'],[.66,.23,.17,.045,-5,'c'],[.47,.28,.05,.05,30,'c'],[.7,.23,.12,.03,0,'g'],[.7,.235,.08,.018,0,'y'],[.71,.235,.05,.012,0,'r'],[.4,.57,.11,.13,-35,'b'],[.4,.55,.07,.07,-35,'c'],[.39,.56,.04,.035,-35,'g']],
 [[.4,.65,.4,.35,0,'p'],[.55,.6,.25,.2,0,'p'],[.4,.5,.08,.22,12,'b'],[.33,.74,.16,.1,-30,'b'],[.385,.52,.05,.16,12,'c'],[.34,.68,.1,.1,-35,'c'],[.34,.72,.09,.07,-30,'g'],[.33,.72,.05,.04,-30,'y'],[.325,.72,.025,.016,-30,'r'],[.7,.165,.17,.06,-5,'b'],[.55,.25,.09,.07,25,'b'],[.7,.19,.13,.025,0,'c'],[.72,.19,.08,.015,0,'g'],[.73,.19,.03,.01,0,'r'],[.7,.515,.14,.05,0,'b'],[.63,.515,.015,.015,0,'c']]
];
(function () {
  const root = document.getElementById('flow');
  flowBoxes.forEach(function (b, i) {
    const g = mk('g', {}, root);
    
    
    const cp = mk('clipPath', {id: 'fp' + i}, g);
    mk('rect', {x: b[0], y: b[1], width: b[2], height: b[3]}, cp);
    const inner = mk('g', {'clip-path': 'url(#fp' + i + ')'}, g);
    flowBlobs[i].forEach(function (s) {
      const cx = b[0] + s[0] * b[2], cy = b[1] + s[1] * b[3];
      const rx = s[2] * b[2], ry = s[3] * b[3];
      const rot = 'rotate(' + s[4] + ' ' + cx + ' ' + cy + ')';
      if (s[5] === 'p' || s[5] === 'm') {
        const under = mk('ellipse', {cx: cx, cy: cy, rx: rx * 1.25, ry: ry * 1.25, fill: s[5] === 'p' ? '#e4e9fe' : '#aebcf9', mask: 'url(#soft-mask)', transform: rot}, inner);
        
        
        const sp = mk('ellipse', {cx: cx, cy: cy, rx: rx * 1.25, ry: ry * 1.25, fill: s[5] === 'p' ? 'url(#speck-sparse)' : 'url(#speck-dense)', mask: 'url(#soft-mask)', transform: rot}, inner);
        
        
      } else {
        const el = mk('ellipse', {cx: cx, cy: cy, rx: rx, ry: ry, fill: flowColors[s[5]], filter: 'url(#blur1)', transform: rot}, inner);
        
        
      }
    });
    line(g, b[0], b[1], b[0] + b[2], b[1], 2.5, '#8a8a8a', 'plot-top-border');
    line(g, b[0], b[1] + b[3], b[0] + b[2], b[1] + b[3], 2.5, '#8a8a8a', 'plot-bottom-border');
    line(g, b[0], b[1], b[0], b[1] + b[3], 2, '#8a8a8a', 'plot-left-border');
    line(g, b[0] + b[2], b[1], b[0] + b[2], b[1] + b[3], 2, '#8a8a8a', 'plot-right-border');
    line(g, b[0] + b[4] * b[2], b[1], b[0] + b[4] * b[2], b[1] + b[3], 2, '#666', 'quadrant-vertical');
    line(g, b[0], b[1] + b[5] * b[3], b[0] + b[2], b[1] + b[5] * b[3], 2.5, '#777', 'quadrant-horizontal');
    const tx = mk('line', {x1: b[0], y1: b[1] + b[3] + 6, x2: b[0] + b[2], y2: b[1] + b[3] + 6, stroke: '#777', 'stroke-width': 6, 'stroke-dasharray': '2 5'}, g);
    
    
    const ty = mk('line', {x1: b[0] - 5, y1: b[1], x2: b[0] - 5, y2: b[1] + b[3], stroke: '#777', 'stroke-width': 5, 'stroke-dasharray': '2 6'}, g);
    
    
  });
})();

/* ---------- western blot stand-ins ---------- */
const blotFrames = [[140,370,350,114,'#838383'],[140,496,350,112,'#cfcfcf'],[138,622,350,114,'#a9a9a9'],[141,1118,350,112,'#e8e8e8'],[142,1241,350,111,'#d0d0d0'],[142,1362,350,113,'#c8c8c8'],[675,397,335,109,'#f4f4f4'],[675,518,335,109,'#e8e8e8'],[675,637,335,111,'#ececec'],[1049,395,336,108,'#f8f8f8'],[1049,514,336,115,'#8c8c8c'],[1049,638,336,109,'#ededed'],[810,1150,378,100,'#c4c4c4'],[810,1260,378,102,'#d4d4d4'],[1188,1150,192,100,'#dcdcdc'],[1188,1260,192,102,'#dedede']];
const blotBands = [[183,412,28,4,.5],[268,410,30,3,.4],[347,408,30,5,.85],[430,408,32,4,.8],[183,431,28,4,.8],[270,428,32,5,.7],[347,427,38,9,1],[430,426,40,9,1],[195,541,30,9,.4],[275,543,27,9,.35],[353,546,30,9,.6],[430,545,30,9,.4],[189,668,33,12,1],[268,669,33,9,.95],[348,669,35,11,1],[430,670,38,10,1],[188,1165,25,3,.5],[262,1165,25,3,.4],[343,1165,25,6,.9],[435,1165,32,5,.7],[188,1186,25,4,.8],[270,1195,30,8,.6],[340,1195,55,17,1],[430,1190,55,14,1],[290,1210,20,8,.9],[165,1297,14,8,.9],[205,1298,18,5,.4],[262,1297,25,4,.3],[300,1295,8,7,.8],[360,1298,32,9,.9],[442,1302,32,9,.75],[192,1417,35,9,1],[272,1420,35,9,1],[350,1422,30,8,.95],[440,1422,35,9,1],[718,452,30,9,.85],[799,453,32,9,.8],[881,452,33,10,1],[965,452,30,7,.5],[737,578,32,5,.8],[813,575,30,5,.85],[880,575,20,4,.7],[960,567,27,4,.5],[905,527,30,5,.3],[725,683,33,9,1],[803,685,33,9,1],[880,687,33,9,1],[962,686,35,8,1],[1088,442,28,7,.65],[1175,445,32,6,.55],[1260,443,30,8,.85],[1348,440,32,7,.6],[1090,578,30,12,1],[1172,572,33,9,1],[1250,563,30,6,.9],[1335,562,30,10,1],[1100,686,35,7,1],[1170,688,30,6,.9],[1250,691,35,7,1],[1330,690,35,7,1],[840,1207,30,14,1],[903,1207,30,14,1],[968,1208,30,15,1],[1035,1207,25,8,.7],[1097,1205,22,6,.5],[1157,1203,22,8,.7],[1228,1198,22,5,.4],[1290,1200,25,5,.4],[1350,1200,25,5,.4],[842,1315,24,7,.7],[903,1307,24,8,.85],[966,1305,22,7,.6],[1030,1310,22,10,.15],[1095,1320,20,15,.1],[1157,1300,20,20,.15],[1225,1326,28,5,.45],[1285,1326,28,5,.3],[1345,1326,28,5,.3]];
(function () {
  const root = document.getElementById('blots');
  const z = mk('g', {transform: 'translate(1900,1580) scale(1.2404,.7085)'}, root);
  
  
  blotFrames.forEach(function (f) {
    const el = mk('rect', {x: f[0], y: f[1], width: f[2], height: f[3], fill: f[4], stroke: '#444', 'stroke-width': 2}, z);
    
    
  });
  blotBands.forEach(function (b) {
    const el = mk('ellipse', {cx: b[0], cy: b[1], rx: b[2], ry: b[3], fill: '#0a0a0a', opacity: b[4], filter: 'url(#blur2)'}, z);
    
    
  });
})();
</script>
</body>
</html>
